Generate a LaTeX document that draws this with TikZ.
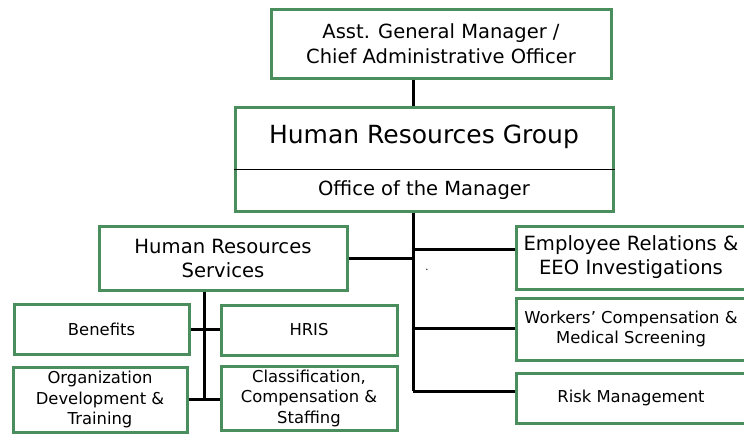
\documentclass[tikz,border=0pt]{standalone}
\usepackage{fontspec}
\setmainfont{DejaVu Sans}
\usepackage{xcolor}
\definecolor{boxgreen}{RGB}{74,142,94}

\tikzset{
  unit/.style={draw=boxgreen, line width=3pt, fill=white, align=center, inner sep=0pt},
  link/.style={draw=black, line width=3pt},
  big/.style={font=\fontsize{19.5}{25}\selectfont},
  mid/.style={font=\fontsize{19.6}{24}\selectfont},
  small/.style={font=\fontsize{16.4}{20.5}\selectfont}
}

\begin{document}
\begin{tikzpicture}[x=1pt,y=-1pt]
\useasboundingbox (0,0) rectangle (744,434);

\coordinate (spine) at (413,0);

% top of the chart
\node [unit, big, minimum width=340pt, minimum height=69pt] (agm) at (441,43.5)
  {Asst. General Manager /\\Chief Administrative Officer};

\node [unit, minimum width=378pt, minimum height=104pt] (hrg) at (424,159) {};
\node [font=\fontsize{25}{28}\selectfont] (hrgtitle) at (424,137) {Human Resources Group};
\node [big] (office) at (424,190) {Office of the Manager};
\draw [black, line width=1pt] (hrg.west |- 0,169) -- (hrg.east |- 0,169);

% left side
\node [unit, mid, minimum width=248pt, minimum height=64pt] (hrs) at (223,258)
  {Human Resources\\Services};
\node [unit, small, minimum width=175pt, minimum height=50pt] (ben) at (101.5,329) {Benefits};
\node [unit, small, minimum width=176pt, minimum height=50pt] (hris) at (309,330) {HRIS};
\node [unit, small, minimum width=174pt, minimum height=65pt] (odt) at (100,399.5)
  {Organization\\Development \&\\Training};
\node [unit, small, minimum width=176pt, minimum height=64pt] (ccs) at (309,398)
  {Classification,\\Compensation \&\\Staffing};

% right side
\node [unit, mid, minimum width=230pt, minimum height=63pt] (er) at (631,257.5)
  {Employee Relations \&\\EEO Investigations};
\node [unit, small, minimum width=230pt, minimum height=62pt,
  font=\fontsize{16.4}{20}\selectfont] (wc) at (631,329)
  {Workers' Compensation \&\\Medical Screening};
\node [unit, small, minimum width=230pt, minimum height=50pt] (rm) at (631,398) {Risk Management};

\node [font=\fontsize{10}{10}\selectfont] (dot) at (427,270) {.};

% connectors
\coordinate (jer) at (413,249);
\coordinate (jwc) at (413,328);
\coordinate (jrm) at (413,391);
\coordinate (hrsdown) at (204,399);

\draw [link] (agm.south -| spine) -- (hrg.north -| spine);
\draw [link] (hrg.south -| spine) -- (jrm);
\draw [link] (jer) -- (jer -| er.west);
\draw [link] (jwc) -- (jwc -| wc.west);
\draw [link] (jrm) -- (jrm -| rm.west);
\draw [link] (hrs.east) -- (hrs.east -| spine);

\draw [link] (hrs.south -| hrsdown) -- (hrsdown);
\draw [link] (ben.east) -- (ben.east -| hris.west);
\draw [link] (odt.east |- hrsdown) -- (hrsdown -| ccs.west);

\end{tikzpicture}
\end{document}
